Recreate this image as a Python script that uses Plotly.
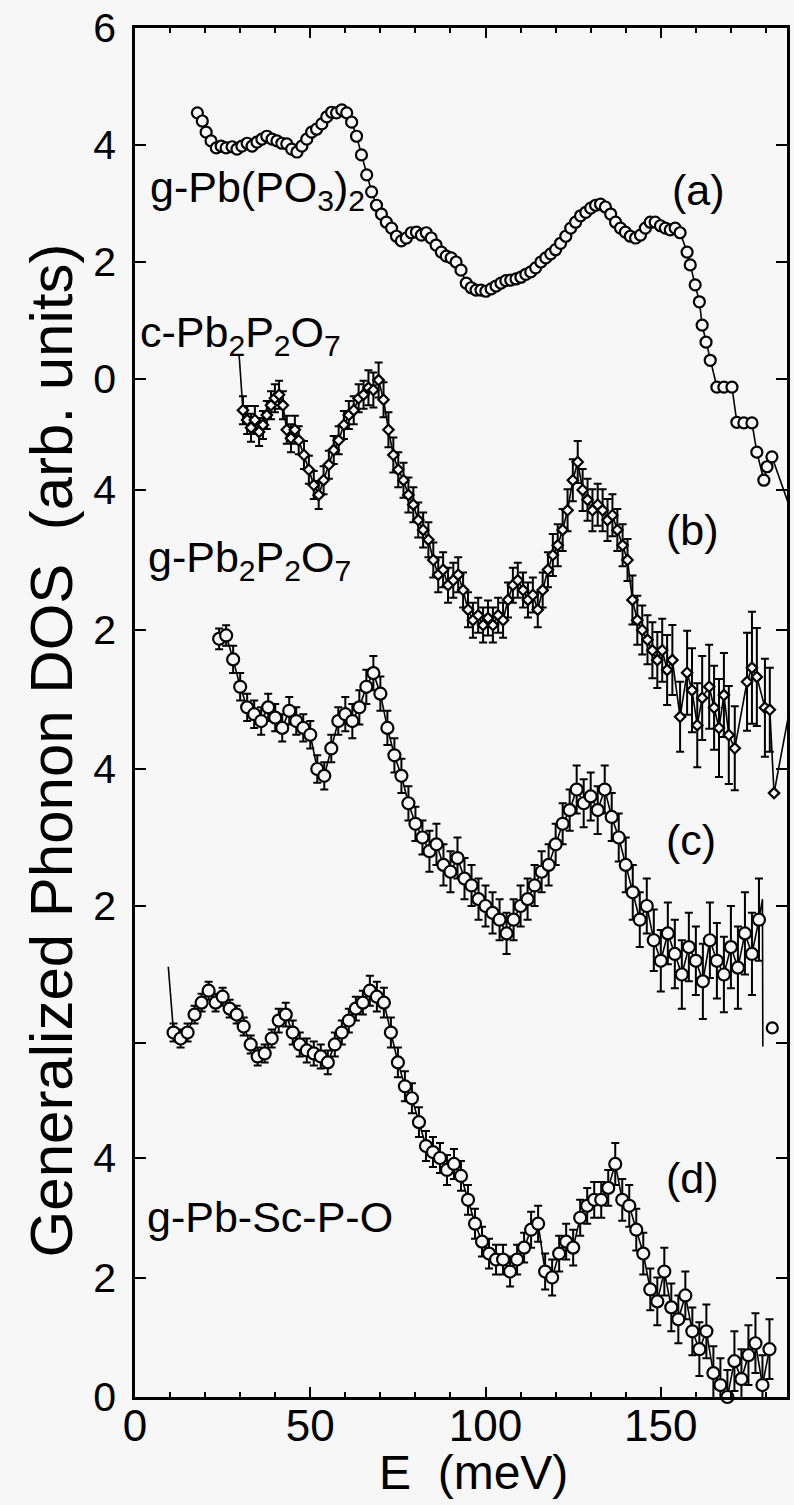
import plotly.graph_objects as go

# ---------------- data ----------------
# (a) g-Pb(PO3)2
E_a = [17.8, 19.2, 20.3, 21.7, 23.2, 24.6, 26.0, 27.7, 29.1, 30.5, 32.0, 33.4, 34.8, 36.2, 37.6, 39.1,
       40.5, 41.9, 43.3, 44.7, 46.2, 47.6, 49.0, 50.4, 51.8, 53.3, 54.7, 56.1, 57.5, 59.0, 60.4, 61.8,
       63.2, 64.6, 66.1, 67.5, 68.9, 70.3, 71.7, 73.2, 74.6, 76.0, 77.4, 78.8, 80.3, 81.7, 83.1, 84.5,
       85.9, 87.4, 88.8, 90.2, 91.6, 93.0, 94.5, 95.9, 97.3, 98.7, 100.1, 101.6, 103.0, 104.4, 105.8,
       107.2, 108.7, 110.1, 111.5, 112.9, 114.3, 115.8, 117.2, 118.6, 120.0, 121.4, 122.9, 124.3, 125.7,
       127.1, 128.6, 130.0, 131.4, 132.8, 134.2, 135.7, 137.1, 138.5, 139.9, 141.3, 142.8, 144.2, 145.6,
       147.0, 148.4, 149.9, 151.3, 152.7, 154.1, 155.5, 157.5, 158.4, 159.8, 161.0, 161.8, 162.9, 164.1,
       166.0, 168.0, 170.3, 171.7, 173.7, 176.0, 177.4, 179.4, 180.3, 181.7, 188.0]
DOS_a = [4.55, 4.41, 4.22, 4.07, 3.95, 3.98, 3.95, 3.97, 3.93, 3.98, 4.03, 3.98, 4.05, 4.10, 4.15, 4.10,
         4.07, 4.03, 4.02, 3.93, 3.88, 3.98, 4.10, 4.22, 4.27, 4.36, 4.48, 4.56, 4.55, 4.60, 4.55, 4.39,
         4.15, 3.83, 3.49, 3.20, 2.97, 2.82, 2.68, 2.58, 2.44, 2.36, 2.41, 2.50, 2.51, 2.46, 2.50, 2.41,
         2.29, 2.17, 2.10, 2.07, 2.00, 1.86, 1.64, 1.56, 1.52, 1.52, 1.50, 1.54, 1.59, 1.64, 1.68,
         1.69, 1.71, 1.74, 1.79, 1.83, 1.90, 2.00, 2.07, 2.14, 2.21, 2.32, 2.44, 2.58, 2.68,
         2.79, 2.85, 2.92, 2.97, 2.99, 2.94, 2.82, 2.68, 2.58, 2.51, 2.44, 2.41, 2.46, 2.58,
         2.68, 2.68, 2.62, 2.58, 2.55, 2.58, 2.50, 2.17, 1.95, 1.61, 1.32, 0.92, 0.63, 0.32,
         -0.14, -0.14, -0.14, -0.74, -0.75, -0.75, -1.25, -1.73, -1.50, -1.33, -2.4]

# (b) c-Pb2P2O7 / g-Pb2P2O7 (diamonds); first value is the lead-in line start
E_b = [29.7, 30.8, 32.0, 33.1, 34.2, 35.4, 36.5, 37.6, 38.8, 39.9, 41.1, 42.2, 43.3, 44.5, 45.6, 46.7,
       48.2, 49.6, 51.0, 52.4, 53.8, 55.3, 56.7, 58.1, 59.6, 61.0, 62.4, 63.8, 65.2, 66.6, 68.0, 69.5,
       70.9, 72.3, 73.7, 75.1, 76.6, 78.0, 79.4, 80.8, 82.2, 83.7, 85.1, 86.5, 87.9, 89.3, 90.8, 92.2,
       93.6, 95.0, 96.4, 97.9, 99.3, 100.7, 102.1, 103.6, 105.0, 106.4, 107.8, 109.2, 110.7, 112.1,
       113.5, 114.9, 116.3, 117.8, 119.2, 120.6, 122.0, 123.4, 124.9, 126.3, 127.7, 129.1, 130.5, 132.0,
       133.4, 134.8, 136.2, 137.6, 139.1, 140.5, 141.9, 143.3, 144.7, 146.2, 147.6, 149.0, 150.4, 151.8,
       153.3, 155.5, 157.5, 158.9, 160.4, 161.8, 163.8, 165.2, 166.6, 168.0, 169.4, 171.1, 174.6, 176.0,
       177.4, 179.7, 181.1, 182.3]
DOS_b = [5.93, 5.14, 5.0, 4.89, 5.0, 4.83, 4.93, 5.07, 5.21, 5.31, 5.36, 5.21, 4.86, 4.74, 4.86, 4.71,
         4.5, 4.29, 4.07, 3.93, 4.14, 4.36, 4.57, 4.71, 4.93, 5.07, 5.14, 5.31, 5.36, 5.46, 5.43, 5.57,
         5.29, 4.86, 4.5, 4.29, 4.14, 3.93, 3.79, 3.57, 3.43, 3.29, 3.0, 2.79, 2.86, 2.64, 2.71, 2.79,
         2.57, 2.29, 2.14, 2.21, 2.07, 2.17, 2.07, 2.21, 2.14, 2.43, 2.64, 2.71, 2.57, 2.43,
         2.5, 2.29, 2.57, 2.86, 3.07, 3.21, 3.43, 3.71, 4.14, 4.4, 4.0, 3.86, 3.71, 3.79,
         3.71, 3.57, 3.64, 3.43, 3.21, 3.0, 2.43, 2.14, 2.0, 1.86, 1.71, 1.57, 1.71, 1.43,
         1.57, 0.76, 1.39, 1.14, 0.64, 1.03, 1.19, 0.89, 0.6, 1.07, 0.5, 0.31, 1.26, 1.46,
         1.33, 0.89, 0.86, -0.33]
ERR_b = [0.0, 0.2, 0.2, 0.2, 0.2, 0.2, 0.2, 0.2, 0.2, 0.2, 0.2, 0.2, 0.2, 0.2, 0.2, 0.2,
         0.2, 0.2, 0.2, 0.2, 0.2, 0.2, 0.2, 0.2, 0.2, 0.2, 0.2, 0.2, 0.2, 0.25, 0.25, 0.25,
         0.25, 0.25, 0.25, 0.25, 0.25, 0.25, 0.25, 0.25, 0.25, 0.25, 0.25, 0.25, 0.25, 0.25, 0.25, 0.25,
         0.25, 0.25, 0.25, 0.25, 0.25, 0.25, 0.25, 0.25, 0.25, 0.25, 0.25, 0.25, 0.25, 0.25,
         0.25, 0.25, 0.25, 0.25, 0.3, 0.3, 0.3, 0.3, 0.3, 0.3, 0.3, 0.3, 0.3, 0.3,
         0.3, 0.3, 0.3, 0.3, 0.3, 0.3, 0.35, 0.35, 0.35, 0.35, 0.4, 0.4, 0.45, 0.5,
         0.5, 0.5, 0.6, 0.6, 0.6, 0.6, 0.6, 0.6, 0.7, 0.6, 0.7, 0.6, 0.7, 0.8,
         0.7, 0.7, 0.6, 0.0]
E_b_tail = [182.3, 188.0]
DOS_b_tail = [-0.33, 1.2]

# (c) g-Pb2P2O7 (circles)
E_c = [24, 26, 28, 30, 32, 34, 36, 38, 40, 42, 44, 46, 48, 50, 52, 54, 56, 58, 60, 62, 64, 66, 68, 70,
       72, 74, 76, 78, 80, 82, 84, 86, 88, 90, 92, 94, 96, 98, 100, 102, 104, 106, 108, 110, 112, 114,
       116, 118, 120, 122, 124, 126, 128, 130, 132, 134, 136, 138, 140, 142, 144, 146, 148, 150, 152,
       154, 156, 158, 160, 162, 164, 166, 168, 170, 172, 174, 176, 178]
DOS_c = [5.9, 5.95, 5.6, 5.2, 4.9, 4.8, 4.7, 4.9, 4.75, 4.6, 4.85, 4.7, 4.6, 4.5, 4.0, 3.9, 4.3, 4.7,
         4.8, 4.7, 4.9, 5.2, 5.4, 5.1, 4.6, 4.2, 3.9, 3.5, 3.2, 3.0, 2.8, 2.9, 2.6, 2.5, 2.7, 2.4, 2.3,
         2.1, 2.0, 1.9, 1.8, 1.6, 1.8, 2.0, 2.1, 2.3, 2.5, 2.6, 2.9, 3.2, 3.4, 3.7, 3.5, 3.6, 3.4, 3.7,
         3.3, 3.0, 2.6, 2.2, 1.8, 2.0, 1.5, 1.2, 1.6, 1.3, 1.0, 1.4, 1.2, 0.9, 1.5, 1.2, 1.0, 1.4, 1.1,
         1.6, 1.3, 1.8]
ERR_c = [0.15, 0.15, 0.2, 0.2, 0.2, 0.2, 0.2, 0.2, 0.2, 0.2, 0.2, 0.2, 0.2, 0.2, 0.2, 0.2, 0.2, 0.2,
         0.25, 0.25, 0.25, 0.25, 0.25, 0.25, 0.25, 0.25, 0.25, 0.25, 0.25, 0.25, 0.3, 0.3, 0.3, 0.3, 0.3,
         0.3, 0.3, 0.3, 0.3, 0.3, 0.3, 0.3, 0.3, 0.3, 0.3, 0.3, 0.3, 0.3, 0.3, 0.3, 0.3, 0.35, 0.35,
         0.35, 0.35, 0.35, 0.35, 0.35, 0.4, 0.4, 0.4, 0.4, 0.45, 0.45, 0.45, 0.5, 0.5, 0.5, 0.5, 0.55,
         0.55, 0.55, 0.55, 0.6, 0.6, 0.6, 0.6, 0.6]
E_c_tail = [178, 179, 179.1]
DOS_c_tail = [1.8, 2.1, -0.05]
E_c_lone = [181.8]
DOS_c_lone = [0.22]

# (d) g-Pb-Sc-P-O (circles); first value is the lead-in line start
E_d = [9.5, 11, 13, 15, 17, 19, 21, 23, 25, 27, 29, 31, 33, 35, 37, 39, 41, 43, 45, 47, 49, 51, 53,
       55, 57, 59, 61, 63, 65, 67, 69, 71, 73, 75, 77, 79, 81, 83, 85, 87, 89, 91, 93, 95, 97, 99,
       101, 103, 105, 107, 109, 111, 113, 115, 117, 119, 121, 123, 125, 127, 129, 131, 133, 135, 137,
       139, 141, 143, 145, 147, 149, 151, 153, 155, 157, 159, 161, 163, 165, 167, 169, 171, 173, 175,
       177, 179, 181]
DOS_d = [7.2, 6.1, 6.0, 6.1, 6.4, 6.6, 6.8, 6.6, 6.7, 6.5, 6.4, 6.2, 5.9, 5.7, 5.75, 6.0, 6.3, 6.4,
         6.1, 5.9, 5.8, 5.75, 5.7, 5.6, 5.9, 6.1, 6.3, 6.5, 6.6, 6.8, 6.7, 6.6, 6.1, 5.6, 5.2, 5.0,
         4.6, 4.2, 4.1, 4.0, 3.8, 3.9, 3.7, 3.3, 2.9, 2.6, 2.4, 2.3, 2.3, 2.1, 2.3, 2.5, 2.8, 2.9,
         2.1, 2.0, 2.4, 2.6, 2.5, 3.0, 3.2, 3.3, 3.3, 3.5, 3.9, 3.3, 3.2, 2.8, 2.4, 1.8, 1.6, 2.1,
         1.5, 1.3, 1.7, 1.1, 0.8, 1.1, 0.4, 0.2, 0.0, 0.6, 0.3, 0.7, 0.9, 0.2, 0.8]
ERR_d = [0.0, 0.15, 0.15, 0.15, 0.15, 0.15, 0.15, 0.15, 0.15, 0.15, 0.15, 0.15, 0.15, 0.15, 0.15,
         0.15, 0.2, 0.2, 0.2, 0.2, 0.2, 0.2, 0.2, 0.2, 0.2, 0.2, 0.2, 0.2, 0.2, 0.25, 0.25, 0.25, 0.25,
         0.25, 0.25, 0.25, 0.25, 0.25, 0.25, 0.25, 0.25, 0.25, 0.25, 0.25, 0.25, 0.25, 0.25, 0.25,
         0.25, 0.25, 0.25, 0.25, 0.3, 0.3, 0.3, 0.3, 0.3, 0.3, 0.3, 0.3, 0.3, 0.3, 0.3, 0.3, 0.35,
         0.35, 0.35, 0.35, 0.35, 0.35, 0.4, 0.4, 0.4, 0.4, 0.4, 0.4, 0.45, 0.45, 0.45, 0.45, 0.45,
         0.5, 0.5, 0.5, 0.5, 0.5, 0.5]

# axis tick labels per panel
TICKS_a = [0, 2, 4, 6]
TICKS_b = [2, 4]
TICKS_c = [0, 2, 4]
TICKTEXT_c = ["", "2", "4"]
TICKS_d = [0, 2, 4]

# ---------------- figure ----------------
BG = "#f7f7f7"
FONT = "Liberation Sans, Arial, Helvetica, sans-serif"
W, H = 794, 1505
ML, MR, MT, MB = 135, 4, 28, 108
PW, PH = W - ML - MR, H - MT - MB
LINE = dict(color="black", width=1.6)

fig = go.Figure()

def marker(symbol, size):
    return dict(symbol=symbol, size=size, color=BG, line=dict(color="black", width=2.2))

def errs(arr):
    return dict(type="data", array=arr, color="black", thickness=2, width=4)

# (a)
fig.add_trace(go.Scatter(x=E_a, y=DOS_a, yaxis="y", mode="lines+markers", line=LINE,
                         marker=marker("circle", 11), cliponaxis=True, showlegend=False))
# (b)
fig.add_trace(go.Scatter(x=E_b[:2], y=DOS_b[:2], yaxis="y2", mode="lines", line=LINE, showlegend=False))
fig.add_trace(go.Scatter(x=E_b_tail, y=DOS_b_tail, yaxis="y2", mode="lines", line=LINE, showlegend=False))
fig.add_trace(go.Scatter(x=E_b[1:], y=DOS_b[1:], yaxis="y2", mode="lines+markers", line=LINE,
                         marker=marker("diamond", 8), error_y=errs(ERR_b[1:]),
                         cliponaxis=False, showlegend=False))
# (c)
fig.add_trace(go.Scatter(x=E_c_tail, y=DOS_c_tail, yaxis="y3", mode="lines", line=LINE, showlegend=False))
fig.add_trace(go.Scatter(x=E_c, y=DOS_c, yaxis="y3", mode="lines+markers", line=LINE,
                         marker=marker("circle", 12), error_y=errs(ERR_c),
                         cliponaxis=False, showlegend=False))
fig.add_trace(go.Scatter(x=E_c_lone, y=DOS_c_lone, yaxis="y3", mode="markers",
                         marker=marker("circle", 11), cliponaxis=False, showlegend=False))
# (d)
fig.add_trace(go.Scatter(x=E_d[:2], y=DOS_d[:2], yaxis="y4", mode="lines", line=LINE, showlegend=False))
fig.add_trace(go.Scatter(x=E_d[1:], y=DOS_d[1:], yaxis="y4", mode="lines+markers", line=LINE,
                         marker=marker("circle", 12), error_y=errs(ERR_d[1:]),
                         cliponaxis=False, showlegend=False))

# pixel position of each panel's zero and its scale (px per unit)
def yrange(zero_px, px_per_unit):
    top = (zero_px - MT) / px_per_unit
    bot = -(MT + PH - zero_px) / px_per_unit
    return [bot, top]

tickfont = dict(family=FONT, size=41, color="black")
common_y = dict(ticks="inside", ticklen=11, tickwidth=2, tickcolor="black", showline=True,
                linecolor="black", linewidth=2.5, mirror="ticks", showgrid=False, zeroline=False,
                tickfont=tickfont, ticklabelstandoff=8)

fig.update_layout(
    width=W, height=H,
    margin=dict(l=ML, r=MR, t=MT, b=MB),
    paper_bgcolor=BG, plot_bgcolor=BG,
    xaxis=dict(range=[0, 186], tickvals=[0, 50, 100, 150], ticks="inside", ticklen=10, tickwidth=2,
               tickcolor="black", showline=True, linecolor="black", linewidth=2.5, mirror="ticks",
               showgrid=False, zeroline=False, tickfont=dict(family=FONT, size=44, color="black"),
               minor=dict(dtick=10, ticks="inside", ticklen=5, tickwidth=2, tickcolor="black"),
               ticklabelstandoff=-12, anchor="y"),
    yaxis=dict(range=yrange(379, 58.5), tickvals=TICKS_a, **common_y),
    yaxis2=dict(range=yrange(770, 70.0), tickvals=TICKS_b, overlaying="y", anchor="x", **common_y),
    yaxis3=dict(range=yrange(1043, 68.5), tickvals=TICKS_c, ticktext=TICKTEXT_c, overlaying="y",
                anchor="x", **common_y),
    yaxis4=dict(range=yrange(1397, 59.75), tickvals=TICKS_d, overlaying="y", anchor="x", **common_y),
)

def px2paper(px, py):
    return (px - ML) / PW, (MT + PH - py) / PH

def label(text, px, py, size=43, xanchor="left"):
    x, y = px2paper(px, py)
    fig.add_annotation(x=x, y=y, xref="paper", yref="paper", text=text, showarrow=False,
                       xanchor=xanchor, yanchor="middle", font=dict(family=FONT, size=size, color="black"))

label("g-Pb(PO<sub>3</sub>)<sub>2</sub>", 148, 190)
label("(a)", 672, 190)
label("c-Pb<sub>2</sub>P<sub>2</sub>O<sub>7</sub>", 138, 335)
label("(b)", 666, 530)
label("g-Pb<sub>2</sub>P<sub>2</sub>O<sub>7</sub>", 146, 560)
label("(c)", 666, 840)
label("g-Pb-Sc-P-O", 145, 1217)
label("(d)", 666, 1178)

# axis titles
x, y = px2paper(475, 1472)
fig.add_annotation(x=x, y=y, xref="paper", yref="paper", text="E  (meV)", showarrow=False,
                   xanchor="center", yanchor="middle", font=dict(family=FONT, size=48, color="black"))
x, y = px2paper(51, 750)
fig.add_annotation(x=x, y=y, xref="paper", yref="paper", text="Generalized Phonon DOS  (arb. units)",
                   showarrow=False, textangle=-90, xanchor="center", yanchor="middle",
                   font=dict(family=FONT, size=60, color="black"))

fig.write_html("out.html")
